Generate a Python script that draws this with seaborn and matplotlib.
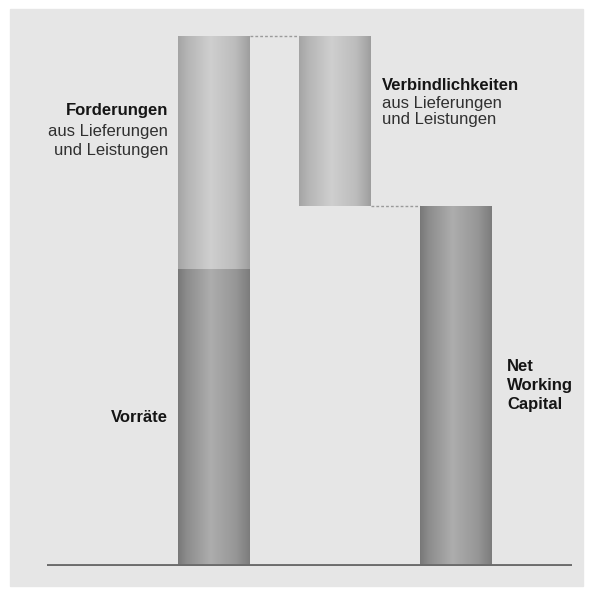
import numpy as np
import matplotlib
matplotlib.use('Agg')
import matplotlib.pyplot as plt
from matplotlib.patches import Rectangle
from matplotlib.colors import LinearSegmentedColormap
import seaborn as sns
import pandas as pd

# Data (share of total)
columns = ['Aktiva', 'Verbindlichkeiten', 'Net Working Capital']
dark_cols = ['Aktiva', 'Net Working Capital']
dark_values = [56, 68]            # Vorräte, Net Working Capital
light_cols = ['Aktiva', 'Verbindlichkeiten']
light_values = [44, 32]           # Forderungen, Verbindlichkeiten
light_bottoms = [56, 68]

sns.set_theme(style='white')
plt.rcParams['font.family'] = ['Liberation Sans', 'DejaVu Sans']

fig = plt.figure(figsize=(5.91, 5.96), dpi=100)
fig.patch.set_facecolor('white')
fig.patches.append(Rectangle((10 / 591, 1 - 586 / 596), 573 / 591, 577 / 596,
                             transform=fig.transFigure, color='#e6e6e6', zorder=-1))

ax = fig.add_axes([47 / 591, 30 / 596, 525 / 591, 546 / 596])
ax.set_facecolor('none')

dark = pd.DataFrame({'col': dark_cols, 'val': dark_values})
light = pd.DataFrame({'col': light_cols, 'val': light_values})

sns.barplot(data=dark, x='col', y='val', order=columns, width=0.596,
            color='#a0a0a0', linewidth=0, ax=ax)
n_dark = len(ax.patches)
sns.barplot(data=light, x='col', y='val', order=columns, width=0.596,
            color='#c0c0c0', linewidth=0, ax=ax)

# move the light segments up onto their bottoms
light_patches = ax.patches[n_dark:]
for p in light_patches:
    idx = light_cols.index(columns[int(round(p.get_x() + p.get_width() / 2))])
    p.set_y(light_bottoms[idx])

dark_cmap = LinearSegmentedColormap.from_list('dark', [
    (0.0, '#787878'), (0.12, '#8c8c8c'), (0.45, '#adadad'),
    (0.8, '#979797'), (1.0, '#7c7c7c')])
light_cmap = LinearSegmentedColormap.from_list('light', [
    (0.0, '#a4a4a4'), (0.12, '#b4b4b4'), (0.45, '#cfcfcf'),
    (0.8, '#bcbcbc'), (1.0, '#9e9e9e')])
grad = np.linspace(0, 1, 256).reshape(1, -1)

for i, p in enumerate(list(ax.patches)):
    cmap = dark_cmap if i < n_dark else light_cmap
    x0, y0 = p.get_x(), p.get_y()
    x1, y1 = x0 + p.get_width(), y0 + p.get_height()
    im = ax.imshow(grad, extent=[x0, x1, y0, y1], aspect='auto', cmap=cmap,
                   vmin=0, vmax=1, zorder=p.get_zorder() + 0.1)
    im.set_clip_path(p)

# connector lines
half = 0.298
top = light_bottoms[0] + light_values[0]
ax.plot([half, 1 - half], [top, top], color='#9a9a9a', lw=1,
        ls=(0, (2, 1.5)), zorder=1)
ax.plot([1 + half, 2 - half], [light_bottoms[1], light_bottoms[1]],
        color='#9a9a9a', lw=1, ls=(0, (2, 1.5)), zorder=1)

ax.axhline(0, color='#6c6c6c', lw=2.8, zorder=3)

ax.set_xlim(-1.387, 2.961)
ax.set_ylim(0, 103.0)
ax.set_xticks([])
ax.set_yticks([])
ax.set_xlabel('')
ax.set_ylabel('')
sns.despine(ax=ax, left=True, bottom=True)

fs = 12
bold_c = '#151515'
reg_c = '#303030'
# labels
xl = -half - 0.087
ax.text(xl, dark_values[0] / 2, 'Vorräte', ha='right', va='center',
        fontsize=fs, fontweight='bold', color=bold_c)
mid_f = light_bottoms[0] + light_values[0] / 2
ax.text(xl, mid_f + 8.0, 'Forderungen', ha='right', va='center',
        fontsize=fs, fontweight='bold', color=bold_c)
ax.text(xl, mid_f + 2.2, 'aus Lieferungen\nund Leistungen', ha='right',
        va='center', fontsize=fs, color=reg_c, linespacing=1.3)

xr = 1 + half + 0.089
mid_v = light_bottoms[1] + light_values[1] / 2
ax.text(xr, mid_v + 6.6, 'Verbindlichkeiten', ha='left', va='center',
        fontsize=fs, fontweight='bold', color=bold_c)
ax.text(xr, mid_v + 1.75, 'aus Lieferungen\nund Leistungen', ha='left',
        va='center', fontsize=fs, color=reg_c, linespacing=1.08)

ax.text(2 + half + 0.124, dark_values[1] / 2, 'Net\nWorking\nCapital',
        ha='left', va='center', fontsize=fs, fontweight='bold',
        color=bold_c, linespacing=1.33)

fig.savefig('out.png', dpi=100)
